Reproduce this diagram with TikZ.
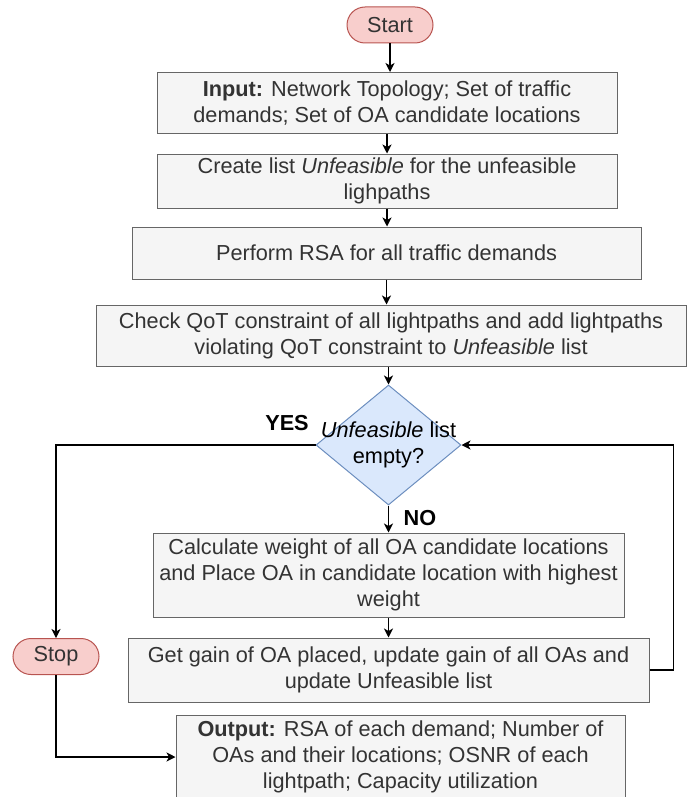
\documentclass[tikz,border=0pt]{standalone}
\usepackage{fontspec}
\setmainfont{Liberation Sans}
\usetikzlibrary{shapes.geometric,arrows.meta}
\definecolor{boxfill}{HTML}{F5F5F5}
\definecolor{boxline}{HTML}{666666}
\definecolor{boxtext}{HTML}{333333}
\definecolor{termfill}{HTML}{F8CECC}
\definecolor{termline}{HTML}{B85450}
\definecolor{decfill}{HTML}{DAE8FC}
\definecolor{decline}{HTML}{6C8EBF}
\begin{document}
\begin{tikzpicture}[x=1pt,y=-1pt,font=\fontsize{21.7}{26}\selectfont,
    box/.style={draw=boxline,fill=boxfill,text=boxtext,line width=1pt,inner sep=0pt,align=center},
    term/.style={draw=termline,fill=termfill,text=boxtext,line width=1pt,rounded corners=18pt,inner sep=0pt,minimum width=86pt,minimum height=36pt},
    decision/.style={diamond,draw=decline,fill=decfill,line width=1pt,inner sep=0pt,minimum width=145pt,minimum height=120pt},
    flow/.style={-{Stealth[length=9pt,width=9pt,inset=2.5pt]},line width=1.2pt},
    lbl/.style={font=\fontsize{21.7}{26}\selectfont\bfseries,inner sep=0pt}]
    \useasboundingbox (0,0) rectangle (699,797);
    \clip (0,0) rectangle (699,797);

    \node[term] (start) at (390,25) {Start};
    \node[box,minimum width=460pt,minimum height=61pt] (inp) at (387,103) {\textbf{Input:} Network Topology; Set of traffic\\demands; Set of OA candidate locations};
    \node[box,minimum width=460pt,minimum height=54pt] (create) at (387,181) {Create list \textit{Unfeasible} for the unfeasible\\lighpaths};
    \node[box,minimum width=509pt,minimum height=52pt] (rsa) at (386.5,253) {Perform RSA for all traffic demands};
    \node[box,minimum width=590pt,minimum height=61pt] (qot) at (391,335.5) {Check QoT constraint of all lightpaths and add lightpaths\\violating QoT constraint to \textit{Unfeasible} list};
    \node[decision] (dia) at (388.5,445) {\makebox[0pt]{\begin{tabular}{@{}c@{}}\textit{Unfeasible} list\\empty?\end{tabular}}};
    \node[box,minimum width=471pt,minimum height=84pt] (calc) at (388.5,575) {Calculate weight of all OA candidate locations\\and Place OA in candidate location with highest\\weight};
    \node[box,minimum width=521pt,minimum height=64pt] (gain) at (388.5,670) {Get gain of OA placed, update gain of all OAs and\\update Unfeasible list};
    \node[term] (stop) at (56,656.5) {Stop};
    \node[box,minimum width=449pt,minimum height=84pt] (out) at (400.5,757) {\textbf{Output:} RSA of each demand; Number of\\OAs and their locations; OSNR of each\\lightpath; Capacity utilization};

    \node[lbl] (yes) at (287,423) {YES};
    \node[lbl] (no) at (420,518) {NO};

    % main column
    \draw[flow] (start.south) -- (start.south |- inp.north);
    \draw[flow] (create.north |- inp.south) -- (create.north);
    \draw[flow] (create.south) -- (create.south |- rsa.north);
    \draw[flow] (rsa.south) -- (rsa.south |- qot.north);
    \draw[flow] (dia.north |- qot.south) -- (dia.north);
    \draw[flow] (dia.south) -- (calc.north);
    \draw[flow] (calc.south) -- (gain.north);

    % loop back and exit
    \draw[flow] (gain.east) -- ++(24,0) |- (dia.east);
    \draw[flow] (dia.west) -| (stop.north);
    \draw[flow] (stop.south) |- (out.west);
\end{tikzpicture}
\end{document}
